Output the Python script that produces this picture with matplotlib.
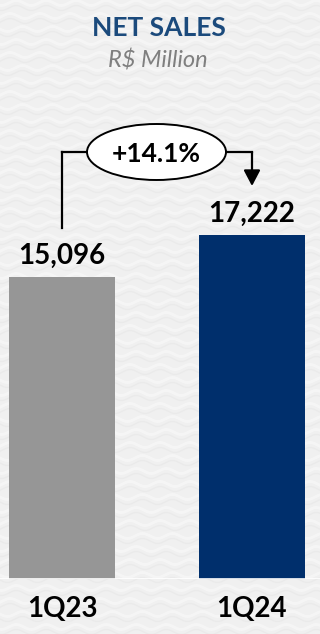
import matplotlib
matplotlib.use("Agg")
import matplotlib.pyplot as plt
import numpy as np
from matplotlib.patches import Ellipse

categories = ["1Q23", "1Q24"]
values = [15096, 17222]
value_labels = ["15,096", "17,222"]
bar_colors = ["#969696", "#002F6C"]
growth_label = "+14.1%"
title = "NET SALES"
subtitle = "R$ Million"

W, H = 320, 634
fig = plt.figure(figsize=(W / 100, H / 100), dpi=100)
fig.patch.set_facecolor("#F0F0F0")
plt.rcParams["font.family"] = ["Lato", "DejaVu Sans"]

# subtle wavy background texture
bg = fig.add_axes([0, 0, 1, 1], zorder=-10)
bg.set_xlim(0, W)
bg.set_ylim(H, 0)
bg.axis("off")
xx = np.linspace(0, W, 400)
for k, y0 in enumerate(np.arange(-10, H + 20, 13)):
    ph = (k % 3) * 1.3
    bg.plot(xx, y0 + 2.5 * np.sin(xx / 30 * 2 * np.pi + ph), color="white", lw=2.0, alpha=0.4)
    bg.plot(xx, y0 + 5 + 2.5 * np.sin(xx / 30 * 2 * np.pi + ph), color="#E4E4E4", lw=1.0, alpha=0.45)

# axes: baseline at pixel 579, top at pixel 0
base_px = 579
ax = fig.add_axes([0, (H - base_px) / H, 1, base_px / H])
ax.set_facecolor("none")
px_per_unit = 344 / values[1]
ax.set_ylim(0, base_px / px_per_unit)
ax.set_xlim(-62 / 190, 1 + 68 / 190)
for s in ax.spines.values():
    s.set_visible(False)
ax.set_xticks([])
ax.set_yticks([])

x = list(range(len(categories)))
ax.bar(x, values, width=106 / 190, color=bar_colors, zorder=2)
ax.axhline(0, color="white", lw=1.2, zorder=3)

def py(p):
    return (base_px - p) / px_per_unit

for xi, v, lab, cat in zip(x, values, value_labels, categories):
    ax.annotate(lab, (xi, v), xytext=(0, 9.5), textcoords="offset points",
                ha="center", va="baseline", fontsize=20, fontweight="bold", color="#000000")
    ax.annotate(cat, (xi, 0), xytext=(0, -27.5), textcoords="offset points",
                ha="center", va="baseline", fontsize=20, fontweight="bold", color="#000000")

# growth bracket
yl = py(152)
ax.plot([x[0], x[0]], [py(228), yl], color="black", lw=1.6, zorder=4)
ex0, ex1 = -62 / 190 + 87 / 190, -62 / 190 + 226 / 190
ax.plot([x[0], ex0], [yl, yl], color="black", lw=1.6, zorder=4)
ax.plot([ex1, x[1]], [yl, yl], color="black", lw=1.6, zorder=4)
ax.annotate("", xy=(x[1], py(186)), xytext=(x[1], yl),
            arrowprops=dict(arrowstyle="-|>,head_length=0.95,head_width=0.5",
                            color="black", lw=1.6, shrinkA=0, shrinkB=0), zorder=4)
ell = Ellipse(((ex0 + ex1) / 2, yl), ex1 - ex0, py(124) - py(180),
              facecolor="white", edgecolor="black", lw=1.4, zorder=5)
ax.add_patch(ell)
ax.text((ex0 + ex1) / 2, yl, growth_label, ha="center", va="center_baseline",
        fontsize=19, fontweight="bold", color="#000000", zorder=6)

fig.text(159 / W, 1 - 36 / H, title, ha="center", va="baseline",
         fontsize=19, fontweight="bold", color="#1B4A7C")
fig.text(158 / W, 1 - 68 / H, subtitle, ha="center", va="baseline",
         fontsize=17, style="italic", color="#7F7F7F")

fig.savefig("out.png", dpi=100, facecolor=fig.get_facecolor())
